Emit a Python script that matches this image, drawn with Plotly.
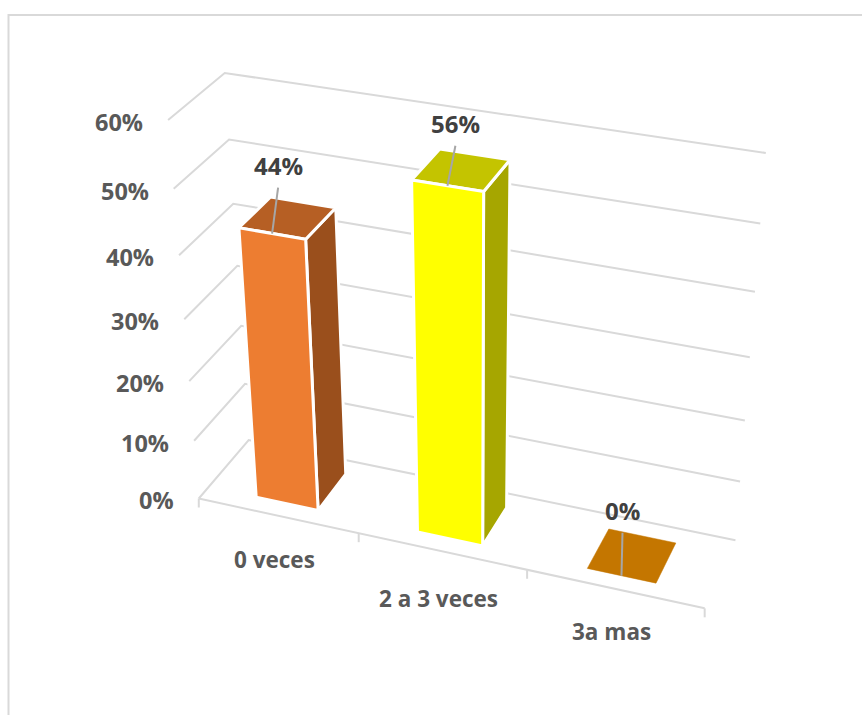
import numpy as np
import plotly.graph_objects as go

# ---- data
categories = ["0 veces", "2 a 3 veces", "3a mas"]
values = [44, 55.3, 0]
value_labels = ["44%", "56%", "0%"]
axis_values = [0, 10, 20, 30, 40, 50, 60]
axis_labels = ["0%", "10%", "20%", "30%", "40%", "50%", "60%"]

# ---- styling
front_colors = ["#ED7D31", "#FFFF00", "#C47600"]
top_colors = ["#B65F24", "#C4C400", "#C47600"]
side_colors = ["#9A4F1C", "#A6A600", "#A66400"]
GRID = "#D9D9D9"
FONT = "Open Sans"

# ---- oblique view of the chart box: (category, depth, value) -> page position
view_world = np.array([
    [0,0,0],[0,0,10],[0,0,20],[0,0,30],[0,0,40],[0,0,50],[0,0,60],
    [0,1,0],[0,1,40],[0,1,50],[0,1,60],
    [3,1,0],[3,1,10],[3,1,20],[3,1,30],[3,1,40],[3,1,50],[3,1,60],
    [3,0,0]], float)
view_page = np.array([
    [199,498],[194,442],[189,380],[184,319],[179,256],[174,189],[168,120],
    [249,440],[233,204],[229,139],[225,73],
    [735,541],[740,482],[745,420],[750,356],[755,292],[760,224],[766,153],
    [705,608]], float)

def fit_view(world, page):
    rows = []
    for (a, b, c), (u, v) in zip(world, page):
        rows.append([a, b, c, 1, 0, 0, 0, 0, -u*a, -u*b, -u*c, -u])
        rows.append([0, 0, 0, 0, a, b, c, 1, -v*a, -v*b, -v*c, -v])
    return np.linalg.svd(np.array(rows))[2][-1].reshape(3, 4)

VIEW = fit_view(view_world, view_page)

def pos(a, b, c):
    h = VIEW @ np.array([a, b, c, 1.0])
    return h[0]/h[2], h[1]/h[2]

fig = go.Figure()

def line(points, color=GRID, width=2):
    fig.add_trace(go.Scatter(x=[p[0] for p in points], y=[p[1] for p in points], mode="lines",
                             line=dict(color=color, width=width), hoverinfo="skip", showlegend=False))

def face(points, color, edge="white", width=3):
    pts = points + [points[0]]
    fig.add_trace(go.Scatter(x=[p[0] for p in pts], y=[p[1] for p in pts], mode="lines", fill="toself",
                             fillcolor=color, line=dict(color=edge, width=width),
                             hoverinfo="skip", showlegend=False))

# frame of the chart area
line([(8.5, 716), (8.5, 15), (863, 15)], width=2)

# gridlines on side and back walls
for v in axis_values:
    line([pos(0, 0, v), pos(0, 1, v), pos(3, 1, v)])

# floor front edge + tick marks
line([pos(0, 0, 0), pos(3, 0, 0)])
for i in range(len(categories) + 1):
    x, y = pos(i, 0, 0)
    line([(x, y), (x, y + 9)])

# bars
BAR_L, BAR_R, BAR_F, BAR_B = 0.305, 0.695, 0.19, 0.79
for i, v in enumerate(values):
    l, r = i + BAR_L, i + BAR_R
    if v > 0:
        face([pos(r, BAR_F, 0), pos(r, BAR_B, 0), pos(r, BAR_B, v), pos(r, BAR_F, v)], side_colors[i])
        face([pos(l, BAR_F, v), pos(r, BAR_F, v), pos(r, BAR_B, v), pos(l, BAR_B, v)], top_colors[i])
        face([pos(l, BAR_F, 0), pos(r, BAR_F, 0), pos(r, BAR_F, v), pos(l, BAR_F, v)], front_colors[i])
    else:
        face([pos(l, BAR_F, v), pos(r, BAR_F, v), pos(r, BAR_B, v), pos(l, BAR_B, v)], front_colors[i], edge=front_colors[i], width=0.5)

annotations = []
# value labels with leader lines
leader_dx = [6, 8, 1]
leader_dy = [-46, -40, -43]
for i, v in enumerate(values):
    x, y = pos(i + (BAR_L + BAR_R)/2, BAR_F, v)
    tx, ty = x + leader_dx[i], y + leader_dy[i]
    line([(x, y), (tx, ty)], color="#A6A6A6", width=2)
    annotations.append(dict(x=tx, y=ty - 22, text=f"<b>{value_labels[i]}</b>", showarrow=False,
                            xanchor="center", yanchor="middle",
                            font=dict(family=FONT, size=24, color="#404040")))

# value axis labels
for v, s in zip(axis_values, axis_labels):
    x, y = pos(0, 0, v)
    annotations.append(dict(x=x - 23, y=y + 2, text=f"<b>{s}</b>", showarrow=False, xanchor="right",
                            yanchor="middle", font=dict(family=FONT, size=23.5, color="#595959")))

# category labels
cat_dy = [44, 47, 43]
for i, c in enumerate(categories):
    x, y = pos(i + 0.5, 0, 0)
    annotations.append(dict(x=x - 3, y=y + cat_dy[i], text=f"<b>{c}</b>", showarrow=False, xanchor="center",
                            yanchor="middle", font=dict(family=FONT, size=22.5, color="#595959")))

fig.update_layout(
    width=862, height=715, margin=dict(l=0, r=0, t=0, b=0),
    paper_bgcolor="white", plot_bgcolor="white", showlegend=False,
    xaxis=dict(range=[0, 862], visible=False, fixedrange=True),
    yaxis=dict(range=[715, 0], visible=False, fixedrange=True),
    annotations=annotations,
)
fig.write_html("out.html", config={"displayModeBar": False},
               post_script="document.body.style.margin='0';")
